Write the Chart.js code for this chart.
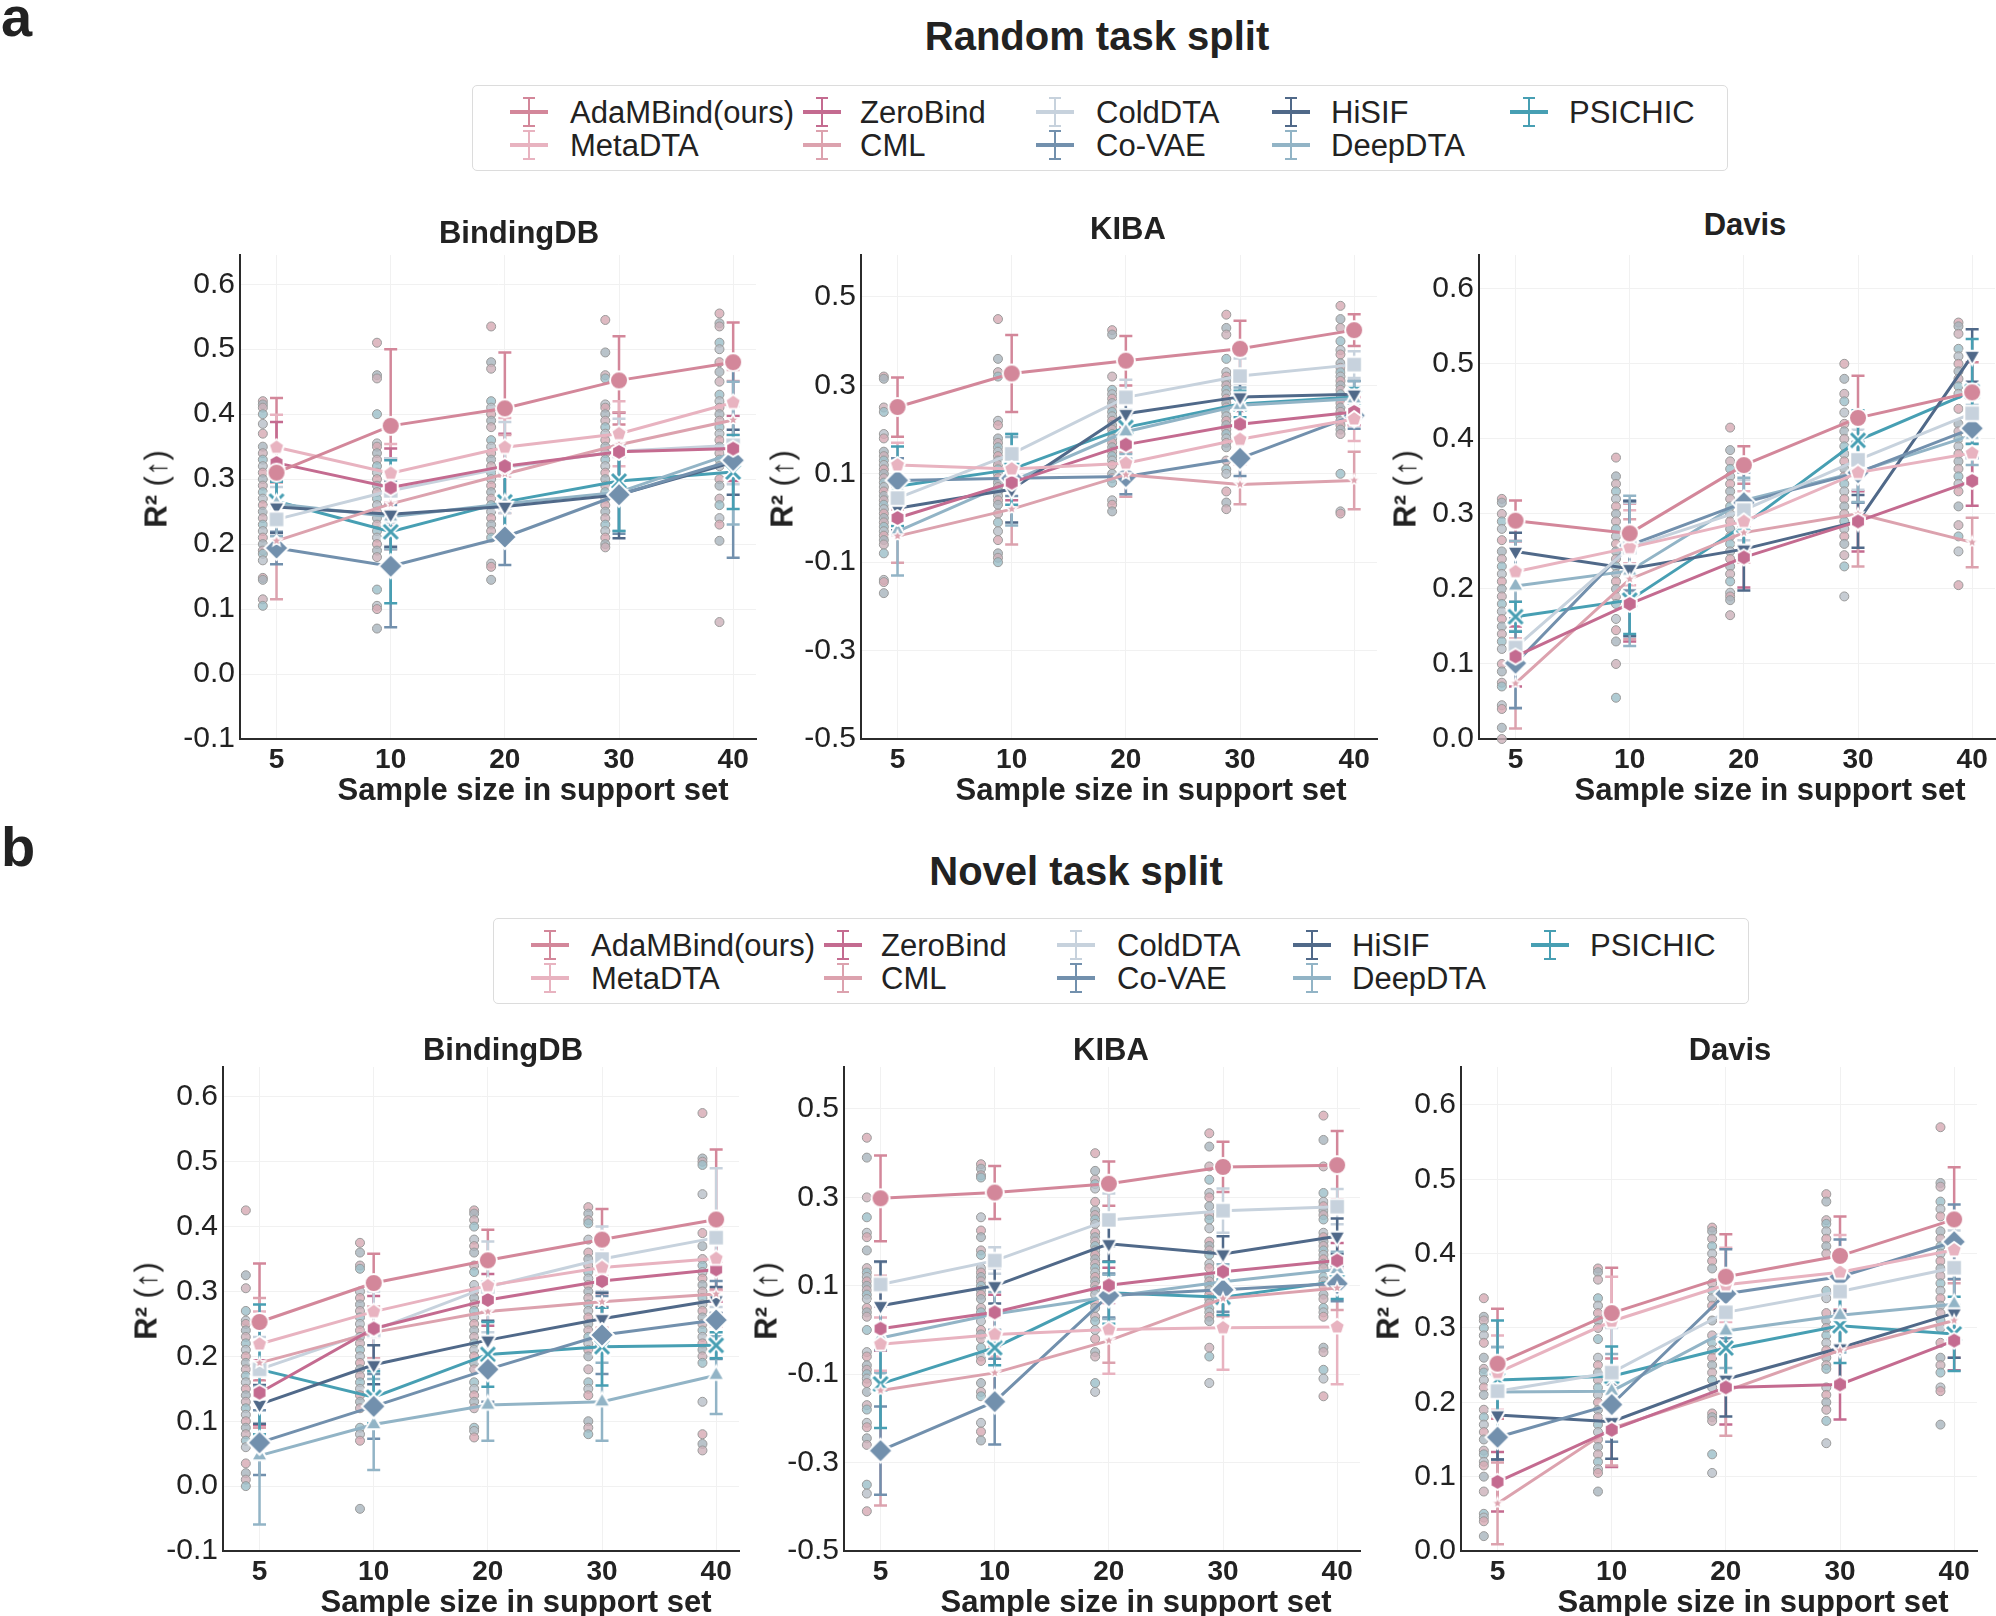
<!DOCTYPE html>
<html>
<head>
<meta charset="utf-8">
<script src="https://cdn.jsdelivr.net/npm/chart.js@4.4.0/dist/chart.umd.min.js"></script>
<style>
  body { margin: 0; background: #fff; }
  #page { position: relative; width: 1996px; height: 1616px; overflow: hidden;
          font-family: "Liberation Sans", Arial, Helvetica, sans-serif; color: #222; }
  .txt { position: absolute; white-space: nowrap; line-height: 1; transform: translate(-50%, -50%); }
  .b { font-weight: bold; }
  .ylab { transform: translate(-50%, -50%) rotate(-90deg); }
  .ylab span { font-weight: normal; }
  .panel { position: absolute; }
  .legend { position: absolute; width: 1256px; height: 86px; border: 1.5px solid #dcdcdc; border-radius: 5px; box-sizing: border-box; }
  .item { position: absolute; font-size: 31px; line-height: 1; transform: translateY(-50%); white-space: nowrap; color: #222; }
  .icon { position: absolute; width: 40px; height: 32px; transform: translateY(-50%); }
  .icon div { position: absolute; }
</style>
</head>
<body>
<div id="page"></div>
<script>
// ---- data ----
const sizes = [5, 10, 20, 30, 40]
const methods = ['AdaMBind(ours)', 'MetaDTA', 'ZeroBind', 'CML', 'ColdDTA', 'Co-VAE', 'HiSIF', 'DeepDTA', 'PSICHIC']

const ticksBinding = [-0.1, 0, 0.1, 0.2, 0.3, 0.4, 0.5, 0.6]
const ticksKiba = [-0.5, -0.3, -0.1, 0.1, 0.3, 0.5]
const ticksDavis = [0, 0.1, 0.2, 0.3, 0.4, 0.5, 0.6]

// rows follow methods order, columns follow sizes
const randBindingDB = [
  [0.310, 0.382, 0.409, 0.452, 0.480],
  [0.349, 0.309, 0.349, 0.370, 0.418],
  [0.325, 0.287, 0.320, 0.342, 0.347],
  [0.205, 0.262, 0.308, 0.353, 0.391],
  [0.238, 0.282, 0.318, 0.343, 0.352],
  [0.194, 0.166, 0.211, 0.276, 0.329],
  [0.257, 0.246, 0.258, 0.276, 0.326],
  [0.262, 0.242, 0.262, 0.280, 0.340],
  [0.266, 0.219, 0.265, 0.297, 0.311]
]
const randBindingDBErr = [
  [0.115, 0.118, 0.086, 0.068, 0.061],
  [0.050, 0.045, 0.045, 0.050, 0.050],
  [0.063, 0.060, 0.050, 0.060, 0.050],
  [0.090, 0.070, 0.060, 0.050, 0.060],
  [0.050, 0.050, 0.070, 0.050, 0.060],
  [0.025, 0.094, 0.043, 0.060, 0.150],
  [0.040, 0.050, 0.050, 0.067, 0.050],
  [0.050, 0.050, 0.050, 0.060, 0.110],
  [0.030, 0.110, 0.050, 0.077, 0.057]
]
const randKIBA = [
  [0.251, 0.327, 0.356, 0.383, 0.425],
  [0.120, 0.111, 0.124, 0.178, 0.224],
  [0.000, 0.080, 0.166, 0.212, 0.240],
  [-0.041, 0.020, 0.098, 0.076, 0.085],
  [0.045, 0.145, 0.273, 0.321, 0.347],
  [0.085, 0.090, 0.094, 0.135, 0.232],
  [0.022, 0.065, 0.236, 0.274, 0.280],
  [-0.030, 0.083, 0.195, 0.255, 0.270],
  [0.072, 0.110, 0.205, 0.258, 0.274]
]
const randKIBAErr = [
  [0.067, 0.087, 0.056, 0.063, 0.036],
  [0.050, 0.040, 0.040, 0.040, 0.050],
  [0.040, 0.040, 0.040, 0.030, 0.030],
  [0.060, 0.080, 0.050, 0.045, 0.065],
  [0.050, 0.045, 0.040, 0.040, 0.030],
  [0.050, 0.040, 0.040, 0.040, 0.030],
  [0.050, 0.075, 0.040, 0.030, 0.030],
  [0.100, 0.100, 0.050, 0.040, 0.040],
  [0.090, 0.080, 0.040, 0.030, 0.020]
]
const randDavis = [
  [0.291, 0.274, 0.365, 0.428, 0.462],
  [0.223, 0.255, 0.290, 0.355, 0.381],
  [0.110, 0.180, 0.242, 0.290, 0.344],
  [0.074, 0.213, 0.275, 0.300, 0.262],
  [0.122, 0.255, 0.305, 0.372, 0.434],
  [0.101, 0.258, 0.315, 0.355, 0.414],
  [0.250, 0.227, 0.253, 0.290, 0.511],
  [0.204, 0.224, 0.318, 0.356, 0.405],
  [0.163, 0.185, 0.285, 0.398, 0.463]
]
const randDavisErr = [
  [0.027, 0.040, 0.025, 0.056, 0.040],
  [0.040, 0.050, 0.040, 0.040, 0.040],
  [0.040, 0.050, 0.040, 0.040, 0.033],
  [0.060, 0.080, 0.040, 0.070, 0.033],
  [0.080, 0.060, 0.040, 0.040, 0.040],
  [0.060, 0.060, 0.040, 0.040, 0.040],
  [0.025, 0.090, 0.055, 0.035, 0.035],
  [0.060, 0.100, 0.030, 0.040, 0.040],
  [0.020, 0.045, 0.030, 0.040, 0.070]
]
const novBindingDB = [
  [0.253, 0.313, 0.348, 0.380, 0.411],
  [0.219, 0.269, 0.309, 0.337, 0.351],
  [0.144, 0.243, 0.287, 0.316, 0.334],
  [0.190, 0.237, 0.269, 0.284, 0.296],
  [0.180, 0.240, 0.307, 0.350, 0.383],
  [0.067, 0.123, 0.180, 0.233, 0.256],
  [0.126, 0.187, 0.225, 0.258, 0.287],
  [0.047, 0.095, 0.125, 0.130, 0.171],
  [0.180, 0.137, 0.203, 0.215, 0.217]
]
const novBindingDBErr = [
  [0.090, 0.045, 0.047, 0.047, 0.108],
  [0.050, 0.040, 0.040, 0.040, 0.050],
  [0.050, 0.050, 0.040, 0.040, 0.050],
  [0.100, 0.040, 0.040, 0.040, 0.050],
  [0.050, 0.060, 0.070, 0.050, 0.107],
  [0.050, 0.050, 0.050, 0.060, 0.060],
  [0.030, 0.030, 0.030, 0.040, 0.020],
  [0.106, 0.070, 0.055, 0.060, 0.060],
  [0.100, 0.040, 0.050, 0.060, 0.020]
]
const novKIBA = [
  [0.298, 0.311, 0.331, 0.369, 0.373],
  [-0.032, -0.010, 0.001, 0.005, 0.007],
  [0.003, 0.040, 0.101, 0.132, 0.157],
  [-0.137, -0.097, -0.024, 0.071, 0.095],
  [0.103, 0.157, 0.249, 0.270, 0.279],
  [-0.273, -0.162, 0.078, 0.091, 0.105],
  [0.055, 0.100, 0.195, 0.172, 0.212],
  [-0.018, 0.036, 0.075, 0.109, 0.137],
  [-0.122, -0.040, 0.084, 0.074, 0.110]
]
const novKIBAErr = [
  [0.097, 0.060, 0.050, 0.057, 0.077],
  [0.060, 0.050, 0.100, 0.095, 0.130],
  [0.050, 0.040, 0.040, 0.040, 0.040],
  [0.260, 0.060, 0.050, 0.040, 0.050],
  [0.050, 0.030, 0.060, 0.050, 0.040],
  [0.100, 0.097, 0.050, 0.050, 0.040],
  [0.100, 0.040, 0.040, 0.040, 0.040],
  [0.080, 0.050, 0.050, 0.040, 0.040],
  [0.100, 0.040, 0.070, 0.040, 0.040]
]
const novDavis = [
  [0.252, 0.320, 0.369, 0.397, 0.446],
  [0.240, 0.309, 0.358, 0.375, 0.405],
  [0.093, 0.163, 0.220, 0.224, 0.283],
  [0.064, 0.165, 0.215, 0.270, 0.310],
  [0.215, 0.240, 0.321, 0.349, 0.381],
  [0.153, 0.197, 0.346, 0.369, 0.416],
  [0.183, 0.174, 0.231, 0.273, 0.320],
  [0.214, 0.215, 0.296, 0.317, 0.332],
  [0.230, 0.235, 0.273, 0.303, 0.292]
]
const novDavisErr = [
  [0.074, 0.061, 0.057, 0.053, 0.070],
  [0.050, 0.060, 0.050, 0.050, 0.040],
  [0.040, 0.050, 0.050, 0.047, 0.040],
  [0.055, 0.050, 0.060, 0.050, 0.050],
  [0.060, 0.060, 0.050, 0.050, 0.050],
  [0.030, 0.050, 0.060, 0.050, 0.050],
  [0.060, 0.050, 0.050, 0.050, 0.060],
  [0.060, 0.050, 0.050, 0.050, 0.050],
  [0.080, 0.040, 0.050, 0.050, 0.050]
]

// per-task scores (the faint dots), one list per support-set size
const randBindingDBDots = [
  [0.42, 0.415, 0.41, 0.40, 0.385, 0.37, 0.35, 0.34, 0.33, 0.32, 0.31, 0.30, 0.29, 0.28, 0.27, 0.26, 0.25, 0.24, 0.23, 0.22, 0.21, 0.20, 0.19, 0.185, 0.175, 0.148, 0.145, 0.115, 0.105],
  [0.51, 0.46, 0.455, 0.40, 0.355, 0.35, 0.34, 0.33, 0.32, 0.31, 0.30, 0.29, 0.28, 0.27, 0.26, 0.25, 0.24, 0.23, 0.22, 0.21, 0.20, 0.19, 0.18, 0.13, 0.105, 0.10, 0.07],
  [0.535, 0.48, 0.47, 0.42, 0.41, 0.40, 0.39, 0.38, 0.36, 0.35, 0.34, 0.33, 0.32, 0.31, 0.30, 0.29, 0.28, 0.27, 0.26, 0.25, 0.24, 0.23, 0.22, 0.21, 0.17, 0.165, 0.145],
  [0.545, 0.495, 0.46, 0.455, 0.415, 0.41, 0.40, 0.39, 0.38, 0.37, 0.36, 0.35, 0.34, 0.33, 0.32, 0.31, 0.30, 0.29, 0.28, 0.27, 0.26, 0.25, 0.24, 0.23, 0.22, 0.21, 0.20, 0.195],
  [0.555, 0.54, 0.535, 0.51, 0.50, 0.48, 0.465, 0.45, 0.43, 0.42, 0.41, 0.40, 0.39, 0.38, 0.37, 0.36, 0.35, 0.34, 0.33, 0.32, 0.30, 0.29, 0.27, 0.26, 0.24, 0.23, 0.205, 0.08]
]
const randKIBADots = [
  [0.32, 0.315, 0.25, 0.24, 0.19, 0.18, 0.15, 0.14, 0.13, 0.12, 0.11, 0.10, 0.09, 0.08, 0.07, 0.06, 0.05, 0.04, 0.03, 0.02, 0.01, 0.0, -0.01, -0.02, -0.03, -0.04, -0.05, -0.06, -0.08, -0.14, -0.145, -0.17],
  [0.45, 0.36, 0.33, 0.32, 0.22, 0.21, 0.18, 0.17, 0.16, 0.15, 0.14, 0.13, 0.12, 0.11, 0.10, 0.09, 0.08, 0.07, 0.06, 0.05, 0.04, 0.03, 0.01, -0.01, -0.03, -0.05, -0.08, -0.09, -0.10],
  [0.425, 0.415, 0.32, 0.29, 0.28, 0.27, 0.26, 0.25, 0.24, 0.23, 0.22, 0.21, 0.20, 0.19, 0.18, 0.17, 0.16, 0.15, 0.14, 0.13, 0.12, 0.10, 0.09, 0.08, 0.04, 0.03, 0.015],
  [0.46, 0.43, 0.415, 0.36, 0.33, 0.32, 0.31, 0.30, 0.29, 0.28, 0.27, 0.26, 0.25, 0.24, 0.23, 0.22, 0.21, 0.20, 0.19, 0.18, 0.17, 0.16, 0.13, 0.11, 0.10, 0.06, 0.035, 0.02],
  [0.48, 0.45, 0.43, 0.40, 0.38, 0.37, 0.35, 0.34, 0.33, 0.32, 0.31, 0.30, 0.29, 0.28, 0.27, 0.26, 0.25, 0.24, 0.23, 0.22, 0.21, 0.20, 0.19, 0.10, 0.015, 0.01]
]
const randDavisDots = [
  [0.32, 0.315, 0.30, 0.29, 0.28, 0.265, 0.25, 0.24, 0.23, 0.22, 0.21, 0.20, 0.19, 0.18, 0.17, 0.16, 0.15, 0.14, 0.13, 0.12, 0.10, 0.09, 0.075, 0.07, 0.045, 0.04, 0.015, 0.0],
  [0.375, 0.35, 0.34, 0.33, 0.32, 0.31, 0.30, 0.29, 0.28, 0.27, 0.26, 0.25, 0.24, 0.23, 0.22, 0.21, 0.20, 0.19, 0.18, 0.16, 0.145, 0.13, 0.10, 0.055],
  [0.415, 0.385, 0.37, 0.36, 0.35, 0.34, 0.33, 0.32, 0.31, 0.30, 0.29, 0.28, 0.27, 0.26, 0.25, 0.24, 0.23, 0.22, 0.21, 0.195, 0.19, 0.185, 0.165],
  [0.50, 0.48, 0.46, 0.45, 0.435, 0.42, 0.41, 0.40, 0.39, 0.38, 0.37, 0.36, 0.35, 0.34, 0.33, 0.32, 0.31, 0.30, 0.29, 0.28, 0.27, 0.26, 0.245, 0.23, 0.19],
  [0.555, 0.55, 0.54, 0.52, 0.51, 0.50, 0.49, 0.48, 0.47, 0.46, 0.44, 0.42, 0.41, 0.40, 0.39, 0.38, 0.37, 0.36, 0.35, 0.34, 0.33, 0.31, 0.285, 0.27, 0.25, 0.205]
]
const novBindingDBDots = [
  [0.425, 0.325, 0.305, 0.27, 0.255, 0.25, 0.24, 0.23, 0.22, 0.21, 0.20, 0.19, 0.18, 0.17, 0.16, 0.15, 0.14, 0.13, 0.12, 0.11, 0.10, 0.09, 0.08, 0.07, 0.06, 0.035, 0.02, 0.01, 0.0, -0.14],
  [0.375, 0.36, 0.34, 0.335, 0.30, 0.29, 0.28, 0.27, 0.26, 0.25, 0.24, 0.23, 0.22, 0.21, 0.20, 0.19, 0.18, 0.17, 0.16, 0.15, 0.14, 0.13, 0.12, 0.09, 0.08, 0.07, -0.035],
  [0.425, 0.42, 0.41, 0.40, 0.38, 0.37, 0.36, 0.34, 0.33, 0.31, 0.30, 0.29, 0.28, 0.27, 0.26, 0.25, 0.24, 0.23, 0.22, 0.21, 0.20, 0.19, 0.18, 0.16, 0.15, 0.14, 0.13, 0.12, 0.09, 0.085, 0.075],
  [0.43, 0.42, 0.41, 0.405, 0.38, 0.36, 0.35, 0.34, 0.33, 0.32, 0.31, 0.30, 0.29, 0.28, 0.27, 0.26, 0.25, 0.24, 0.23, 0.22, 0.21, 0.20, 0.18, 0.16, 0.15, 0.14, 0.10, 0.09, 0.08],
  [0.575, 0.505, 0.50, 0.495, 0.45, 0.39, 0.37, 0.35, 0.34, 0.33, 0.32, 0.31, 0.30, 0.29, 0.28, 0.27, 0.26, 0.25, 0.24, 0.23, 0.22, 0.21, 0.20, 0.19, 0.13, 0.08, 0.065, 0.055]
]
const novKIBADots = [
  [0.435, 0.39, 0.30, 0.255, 0.22, 0.21, 0.18, 0.14, 0.13, 0.12, 0.11, 0.10, 0.09, 0.08, 0.07, 0.05, 0.04, 0.03, 0.0, -0.05, -0.06, -0.08, -0.09, -0.10, -0.11, -0.12, -0.14, -0.17, -0.18, -0.21, -0.22, -0.245, -0.26, -0.35, -0.37, -0.41],
  [0.375, 0.365, 0.35, 0.345, 0.255, 0.225, 0.21, 0.18, 0.17, 0.14, 0.13, 0.12, 0.11, 0.10, 0.09, 0.08, 0.07, 0.05, 0.04, 0.02, 0.0, -0.01, -0.02, -0.04, -0.06, -0.07, -0.12, -0.14, -0.15, -0.21, -0.23, -0.25],
  [0.40, 0.36, 0.34, 0.33, 0.32, 0.29, 0.27, 0.26, 0.25, 0.24, 0.22, 0.21, 0.20, 0.19, 0.18, 0.17, 0.16, 0.15, 0.14, 0.13, 0.12, 0.11, 0.10, 0.09, 0.08, 0.06, 0.05, 0.03, 0.02, 0.0, -0.02, -0.05, -0.06, -0.12, -0.14],
  [0.445, 0.415, 0.37, 0.34, 0.31, 0.30, 0.28, 0.26, 0.25, 0.23, 0.20, 0.19, 0.18, 0.17, 0.15, 0.14, 0.12, 0.11, 0.10, 0.09, 0.08, 0.07, 0.06, 0.05, 0.04, 0.03, 0.02, -0.04, -0.06, -0.12],
  [0.485, 0.43, 0.37, 0.31, 0.29, 0.28, 0.27, 0.26, 0.25, 0.22, 0.21, 0.20, 0.19, 0.18, 0.17, 0.16, 0.15, 0.14, 0.12, 0.11, 0.10, 0.08, 0.07, 0.05, 0.04, 0.03, -0.04, -0.05, -0.09, -0.11, -0.15]
]
const novDavisDots = [
  [0.34, 0.315, 0.31, 0.30, 0.29, 0.28, 0.26, 0.245, 0.24, 0.23, 0.22, 0.21, 0.19, 0.18, 0.17, 0.16, 0.15, 0.135, 0.13, 0.12, 0.115, 0.10, 0.08, 0.05, 0.045, 0.04, 0.02, -0.015],
  [0.38, 0.375, 0.365, 0.34, 0.33, 0.32, 0.31, 0.30, 0.285, 0.26, 0.25, 0.24, 0.23, 0.22, 0.21, 0.20, 0.19, 0.18, 0.17, 0.16, 0.15, 0.14, 0.13, 0.12, 0.11, 0.105, 0.08],
  [0.435, 0.43, 0.42, 0.41, 0.40, 0.39, 0.38, 0.36, 0.35, 0.34, 0.33, 0.31, 0.29, 0.28, 0.27, 0.26, 0.25, 0.24, 0.23, 0.22, 0.185, 0.18, 0.175, 0.13, 0.105],
  [0.48, 0.47, 0.445, 0.44, 0.43, 0.42, 0.41, 0.40, 0.35, 0.34, 0.32, 0.31, 0.30, 0.29, 0.28, 0.27, 0.26, 0.25, 0.245, 0.22, 0.21, 0.20, 0.19, 0.175, 0.145],
  [0.57, 0.495, 0.49, 0.47, 0.46, 0.45, 0.43, 0.42, 0.41, 0.40, 0.39, 0.38, 0.37, 0.36, 0.35, 0.34, 0.33, 0.32, 0.31, 0.30, 0.28, 0.26, 0.25, 0.24, 0.22, 0.215, 0.17]
]

// ---- styling ----
const colors = ['#D3879A', '#E8B3C0', '#C46B90', '#DCA2AE', '#C7D2DD', '#7290AD', '#506989', '#92B4C6', '#479FB3']
const dotColors = ['#D7AAB4', '#A9B5BE', '#CDB2BA', '#9DBFC9', '#B9C1C9']
const FONT = '"Liberation Sans", Arial, Helvetica, sans-serif'
const page = document.getElementById('page')

function el(tag, cls, parent) {
  const e = document.createElement(tag)
  if (cls) e.className = cls
  ;(parent || page).appendChild(e)
  return e
}
function text(str, x, y, size, cls) {
  const t = el('div', 'txt ' + (cls || ''))
  t.textContent = str
  t.style.left = x + 'px'
  t.style.top = y + 'px'
  t.style.fontSize = size + 'px'
  return t
}

// marker images with a white edge, like the seaborn markers
function shape(draw, r) {
  const s = Math.ceil(2 * r + 8)
  const c = document.createElement('canvas')
  c.width = s; c.height = s
  const g = c.getContext('2d')
  draw(g, s / 2, r)
  return c
}
function poly(sides, rot, color) {
  return (g, m, r) => {
    g.beginPath()
    for (let k = 0; k < sides; k++) {
      const a = rot + k * 2 * Math.PI / sides
      const px = m + r * Math.cos(a), py = m + r * Math.sin(a)
      k ? g.lineTo(px, py) : g.moveTo(px, py)
    }
    g.closePath()
    g.fillStyle = color; g.fill()
    g.lineWidth = 2; g.strokeStyle = '#fff'; g.stroke()
  }
}
function circle(color) {
  return (g, m, r) => {
    g.beginPath(); g.arc(m, m, r, 0, 2 * Math.PI)
    g.fillStyle = color; g.fill()
    g.lineWidth = 2; g.strokeStyle = '#fff'; g.stroke()
  }
}
function star(color) {
  return (g, m, r) => {
    g.beginPath()
    for (let k = 0; k < 10; k++) {
      const a = -Math.PI / 2 + k * Math.PI / 5, rr = k % 2 ? r * 0.45 : r
      const px = m + rr * Math.cos(a), py = m + rr * Math.sin(a)
      k ? g.lineTo(px, py) : g.moveTo(px, py)
    }
    g.closePath()
    g.fillStyle = color; g.fill()
    g.lineWidth = 1.5; g.strokeStyle = '#fff'; g.stroke()
  }
}
function cross(color) {
  return (g, m, r) => {
    const d = r * 0.7
    const path = () => { g.beginPath(); g.moveTo(m - d, m - d); g.lineTo(m + d, m + d); g.moveTo(m + d, m - d); g.lineTo(m - d, m + d) }
    path(); g.lineWidth = 6.5; g.strokeStyle = '#fff'; g.lineCap = 'round'; g.stroke()
    path(); g.lineWidth = 3; g.strokeStyle = color; g.lineCap = 'butt'; g.stroke()
  }
}
const markerImgs = [
  shape(circle(colors[0]), 9),
  shape(poly(5, -Math.PI / 2, colors[1]), 8),
  shape(poly(6, -Math.PI / 2, colors[2]), 8),
  shape(star(colors[3]), 6),
  shape(poly(4, Math.PI / 4, colors[4]), 11),
  shape(poly(4, -Math.PI / 2, colors[5]), 12),
  shape(poly(3, Math.PI / 2, colors[6]), 9.5),
  shape(poly(3, -Math.PI / 2, colors[7]), 9.5),
  shape(cross(colors[8]), 10)
]

// error bars drawn through the chart's scales, right after the dot layer
const errorBars = {
  id: 'errorBars',
  afterDatasetDraw(chart, args) {
    if (!chart.data.datasets[args.index].isDots) return
    const {ctx, scales: {x, y}} = chart
    ctx.save()
    chart.data.datasets.forEach(ds => {
      if (!ds.errors) return
      ctx.strokeStyle = ds.borderColor
      ctx.lineWidth = 2.5
      ds.data.forEach((p, i) => {
        const px = x.getPixelForValue(p.x)
        const lo = y.getPixelForValue(p.y - ds.errors[i])
        const hi = y.getPixelForValue(p.y + ds.errors[i])
        ctx.beginPath()
        ctx.moveTo(px, lo); ctx.lineTo(px, hi)
        ctx.moveTo(px - 6.5, lo); ctx.lineTo(px + 6.5, lo)
        ctx.moveTo(px - 6.5, hi); ctx.lineTo(px + 6.5, hi)
        ctx.stroke()
      })
    })
    ctx.restore()
  }
}

const PLOT_W = 516, PLOT_H = 484, Y_W = 110, X_H = 62, PAD_T = 12, PAD_R = 14

function panel(vals, errs, dots, yTicks, yMin, yMax, left, top) {
  const box = el('div', 'panel')
  box.style.left = (left - Y_W) + 'px'
  box.style.top = (top - PAD_T) + 'px'
  const cv = el('canvas', '', box)
  cv.width = PLOT_W + Y_W + PAD_R
  cv.height = PLOT_H + PAD_T + X_H

  const datasets = methods.map((m, k) => ({
    label: m,
    data: vals[k].map((v, i) => ({x: i, y: v})),
    errors: errs[k],
    borderColor: colors[k],
    borderWidth: 3,
    pointStyle: markerImgs[k],
    pointRadius: 8,
    tension: 0,
    order: k
  }))
  const dotData = [], dotFill = []
  dots.forEach((col, i) => col.forEach((v, j) => {
    dotData.push({x: i - 0.12, y: v})
    dotFill.push(dotColors[j % dotColors.length] + 'D0')
  }))
  datasets.push({
    isDots: true,
    data: dotData,
    showLine: false,
    pointRadius: 4.5,
    pointBackgroundColor: dotFill,
    pointBorderColor: '#9A9A9A',
    pointBorderWidth: 1,
    clip: false,
    order: 20
  })

  new Chart(cv, {
    type: 'line',
    data: {datasets},
    plugins: [errorBars],
    options: {
      responsive: false,
      animation: false,
      events: [],
      layout: {padding: {top: PAD_T, right: PAD_R, left: 0, bottom: 0}},
      plugins: {legend: {display: false}, tooltip: {enabled: false}, title: {display: false}},
      scales: {
        x: {
          type: 'linear', min: -0.32, max: 4.2,
          afterBuildTicks: s => { s.ticks = sizes.map((v, i) => ({value: i})) },
          afterFit: s => { s.height = X_H; s.paddingLeft = 0; s.paddingRight = 0 },
          ticks: {callback: v => sizes[v], color: '#222', padding: 4, maxRotation: 0, autoSkip: false,
                  font: {family: FONT, size: 28, weight: 'bold'}},
          grid: {color: '#F1F1F1', lineWidth: 1, drawTicks: false},
          border: {color: '#2b2b2b', width: 2}
        },
        y: {
          type: 'linear', min: yMin, max: yMax,
          afterBuildTicks: s => { s.ticks = yTicks.map(v => ({value: v})) },
          afterFit: s => { s.width = Y_W; s.paddingTop = 0; s.paddingBottom = 0 },
          ticks: {callback: v => v.toFixed(1), color: '#222', padding: 5,
                  font: {family: FONT, size: 30}},
          grid: {color: '#F1F1F1', lineWidth: 1, drawTicks: false},
          border: {color: '#2b2b2b', width: 2}
        }
      }
    }
  })
}

function legend(left, top) {
  const box = el('div', 'legend')
  box.style.left = left + 'px'
  box.style.top = top + 'px'
  const iconX = [56, 349, 582, 818, 1056]
  const textX = [97, 387, 623, 858, 1096]
  methods.forEach((m, k) => {
    const col = Math.floor(k / 2), cy = k % 2 ? 59 : 26
    const ic = el('div', 'icon', box)
    ic.style.left = (iconX[col] - 20) + 'px'
    ic.style.top = cy + 'px'
    const parts = [[1, 14, 38, 4], [19, 2, 2, 28], [14, 1, 12, 2], [14, 29, 12, 2]]
    parts.forEach(([l, t, w, h]) => {
      const d = el('div', '', ic)
      Object.assign(d.style, {left: l + 'px', top: t + 'px', width: w + 'px', height: h + 'px', background: colors[k]})
    })
    const t = el('div', 'item', box)
    t.textContent = m
    t.style.left = textX[col] + 'px'
    t.style.top = cy + 'px'
  })
}

// ---- layout ----
const lab = el('div', 'b'); lab.textContent = 'a'
Object.assign(lab.style, {position: 'absolute', left: '1px', top: '-11px', fontSize: '56px', lineHeight: '1'})
const labB = el('div', 'b'); labB.textContent = 'b'
Object.assign(labB.style, {position: 'absolute', left: '1px', top: '819px', fontSize: '56px', lineHeight: '1'})

text('Random task split', 1097, 36, 40, 'b')
text('Novel task split', 1076, 871, 40, 'b')
legend(472, 85)
legend(493, 918)

panel(randBindingDB, randBindingDBErr, randBindingDBDots, ticksBinding, -0.1, 0.645, 240, 255)
panel(randKIBA, randKIBAErr, randKIBADots, ticksKiba, -0.5, 0.595, 861, 255)
panel(randDavis, randDavisErr, randDavisDots, ticksDavis, 0, 0.645, 1479, 255)
panel(novBindingDB, novBindingDBErr, novBindingDBDots, ticksBinding, -0.1, 0.646, 223, 1067)
panel(novKIBA, novKIBAErr, novKIBADots, ticksKiba, -0.5, 0.595, 844, 1067)
panel(novDavis, novDavisErr, novDavisDots, ticksDavis, 0, 0.651, 1461, 1067)

text('BindingDB', 519, 232, 31, 'b')
text('KIBA', 1128, 228, 31, 'b')
text('Davis', 1745, 224, 31, 'b')
text('BindingDB', 503, 1049, 31, 'b')
text('KIBA', 1111, 1049, 31, 'b')
text('Davis', 1730, 1049, 31, 'b')

const xl = 'Sample size in support set'
text(xl, 533, 789, 31, 'b'); text(xl, 1151, 789, 31, 'b'); text(xl, 1770, 789, 31, 'b')
text(xl, 516, 1601, 31, 'b'); text(xl, 1136, 1601, 31, 'b'); text(xl, 1753, 1601, 31, 'b')

;[[156, 489], [782, 489], [1405, 489], [146, 1301], [766, 1301], [1388, 1301]].forEach(([x, y]) => {
  const t = text('R²', x, y, 31, 'b ylab')
  const s = el('span', '', t)
  s.textContent = ' (↑)'
})
</script>
</body>
</html>
